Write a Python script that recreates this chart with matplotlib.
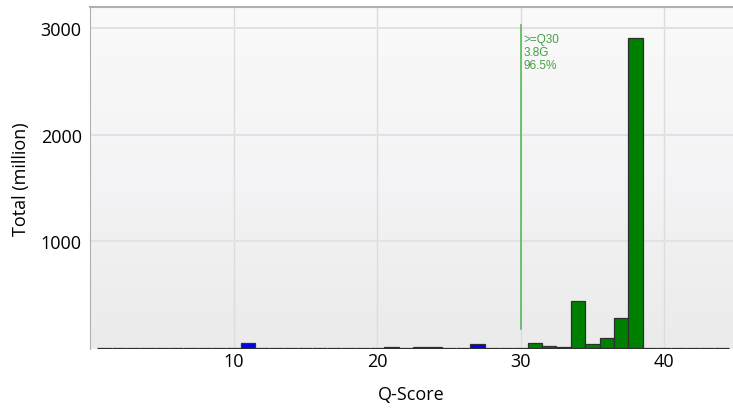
import numpy as np
import matplotlib
matplotlib.use("Agg")
import matplotlib.pyplot as plt
from matplotlib.colors import LinearSegmentedColormap

# Q-score histogram (million bases per Q value)
q_scores = list(range(1, 45))
totals = [0, 0, 0, 0, 0, 0, 0, 0, 0, 0,
          45, 0, 0, 0, 0, 0, 0, 0, 0, 0,
          10, 0, 10, 10, 0, 0, 40, 0, 0, 0,
          45, 20, 10, 440, 40, 90, 280, 2910, 0, 0,
          0, 0, 0, 0]
y_ticks = [1000, 2000, 3000]
x_ticks = [10, 20, 30, 40]
q30_lines = [">=Q30", "3.8G", "96.5%"]

plt.rcParams["font.family"] = ["Open Sans", "DejaVu Sans"]

fig = plt.figure(figsize=(7.33, 4.10), dpi=100)
ax = fig.add_axes([90 / 733, 1 - 350 / 410, (733 - 90) / 733, (350 - 8) / 410])

xmin, xmax = 0, 44.8
ymin, ymax = -10, 3200
ax.set_xlim(xmin, xmax)
ax.set_ylim(ymin, ymax)

# gradient background
cmap = LinearSegmentedColormap.from_list("bg", ["#ebebeb", "#f4f3f5", "#fafafa"])
grad = np.linspace(0, 1, 256).reshape(-1, 1)
ax.imshow(grad, aspect="auto", cmap=cmap, origin="lower",
          extent=[xmin, xmax, ymin, ymax], zorder=0)

for t in x_ticks:
    ax.axvline(t, color="#dcdcdc", lw=1, zorder=1)
for t in y_ticks:
    ax.axhline(t, color="#e2e2e2", lw=1.5, zorder=1)

colors = ["#0000ff" if q < 30 else "#008000" for q in q_scores]
ax.bar(q_scores, totals, width=1.0, color=colors, edgecolor="#2e2e2e",
       linewidth=0.9, zorder=3)

ax.plot([30, 30], [180, 3030], color="#5cb85c", lw=1.2, zorder=4)
ax.text(30.2, 2960, "\n".join(q30_lines), color="#45a045", fontsize=8.5,
        va="top", ha="left", linespacing=1.15, family=["Liberation Sans"], zorder=5)

ax.set_xticks(x_ticks)
ax.set_yticks(y_ticks)
ax.tick_params(axis="x", length=0, labelsize=13, pad=2)
ax.tick_params(axis="y", length=0, labelsize=13, pad=6)
ax.set_xlabel("Q-Score", fontsize=13, labelpad=11)
ax.set_ylabel("Total (million)", fontsize=13, labelpad=8)

for side in ["right", "bottom"]:
    ax.spines[side].set_visible(False)
ax.spines["left"].set_color("#b0b0b0")
ax.spines["top"].set_color("#b0b0b0")
ax.spines["top"].set_linewidth(1.5)

fig.savefig("out.png", dpi=100)
